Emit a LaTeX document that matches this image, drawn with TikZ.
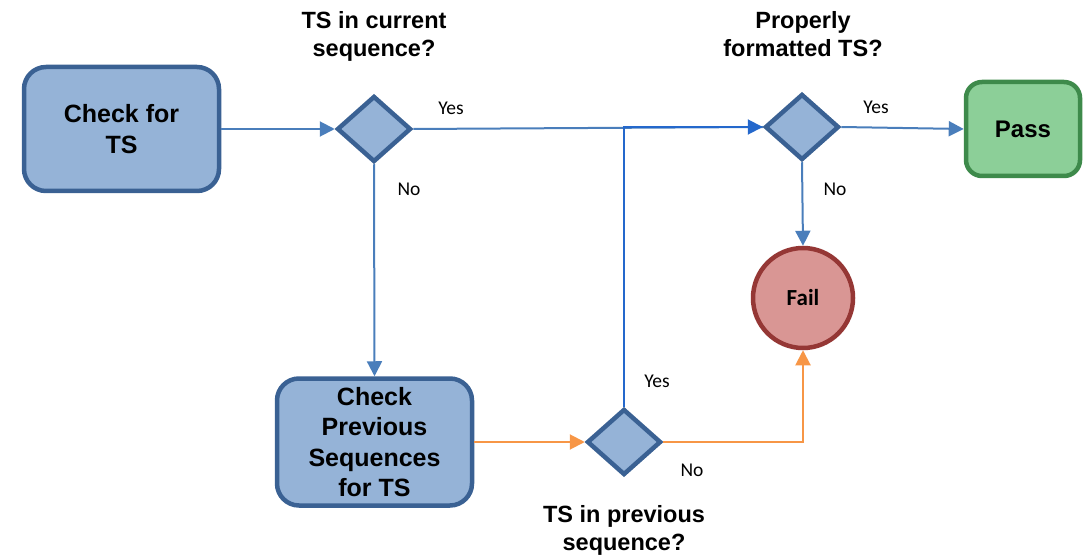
\documentclass[tikz,border=0pt]{standalone}
\usepackage{fontspec}
\setmainfont{Liberation Sans}
\newfontfamily\calfont{Carlito}
\usetikzlibrary{shapes.geometric,arrows.meta}
\definecolor{boxfill}{HTML}{95B3D7}
\definecolor{boxline}{HTML}{3A6193}
\definecolor{conn}{HTML}{4A7EBB}
\definecolor{connb}{HTML}{2468CC}
\definecolor{orng}{HTML}{F79646}
\definecolor{failfill}{HTML}{D99694}
\definecolor{failline}{HTML}{953735}
\definecolor{passfill}{HTML}{8CCF98}
\definecolor{passline}{HTML}{3E8A4B}
\tikzset{
  procbox/.style={draw=boxline, fill=boxfill, line width=4.5pt, rounded corners=22pt,
    align=center, font=\fontsize{25}{30.5}\selectfont\bfseries, inner sep=0pt},
  decide/.style={shape=diamond, draw=boxline, fill=boxfill, line width=4.5pt,
    minimum width=74pt, minimum height=66pt, inner sep=0pt},
  conlabel/.style={font=\calfont\fontsize{19.5}{21}\selectfont, inner sep=0pt},
  question/.style={font=\fontsize{23.5}{28}\selectfont\bfseries, align=center, inner sep=0pt},
  link/.style={line width=2pt, draw=conn},
  tip/.style={-{Triangle[length=15pt,width=15pt]}}
}
\begin{document}
\begin{tikzpicture}[x=1pt,y=-1pt]
\useasboundingbox (0,0) rectangle (1086,556);
% nodes
\node[procbox, minimum width=195pt, minimum height=124pt] (check) at (121.5,129) {Check for\\TS};
\node[decide] (d1) at (374,129) {};
\node[decide] (d2) at (802,127) {};
\node[procbox, minimum width=195pt, minimum height=127pt] (prev) at (374.5,442) {Check\\Previous\\Sequences\\for TS};
\node[decide] (d3) at (624,442) {};
\node[circle, draw=failline, fill=failfill, line width=4.5pt, minimum size=100pt, inner sep=0pt,
      font=\calfont\fontsize{23}{25}\selectfont\bfseries] (fail) at (803,298) {Fail};
\node[draw=passline, fill=passfill, line width=4.5pt, rounded corners=16pt, minimum width=114pt,
      minimum height=94pt, inner sep=0pt, font=\fontsize{24}{28}\selectfont\bfseries] (pass) at (1023,129) {Pass};
% questions
\node[question] (q1) at (374,36) {TS in current\\sequence?};
\node[question] (q2) at (803,34) {Properly\\formatted TS?};
\node[question] (q3) at (624,530) {TS in previous\\sequence?};
% connector labels
\node[conlabel] (y1) at (451,108) {Yes};
\node[conlabel] (n1) at (409,189) {No};
\node[conlabel] (y2) at (876,107) {Yes};
\node[conlabel] (n2) at (835,189) {No};
\node[conlabel] (y3) at (657,381) {Yes};
\node[conlabel] (n3) at (692,470) {No};
% connectors
\draw[link, tip] (check.east) -- (d1.west);
\draw[link] (d1.east) -- (d2.west);
\draw[link, tip] (d1.south) -- (prev.north);
\draw[link, draw=orng, tip] (prev.east) -- (d3.west);
\draw[link, draw=connb, tip] (d3.north) -- (d3.north |- d2.west) -- (d2.west);
\draw[link, draw=orng, tip] (d3.east) -| (fail.south);
\draw[link, tip] (d2.south) -- (fail.north);
\draw[link, tip] (d2.east) -- (pass.west);
\end{tikzpicture}
\end{document}
